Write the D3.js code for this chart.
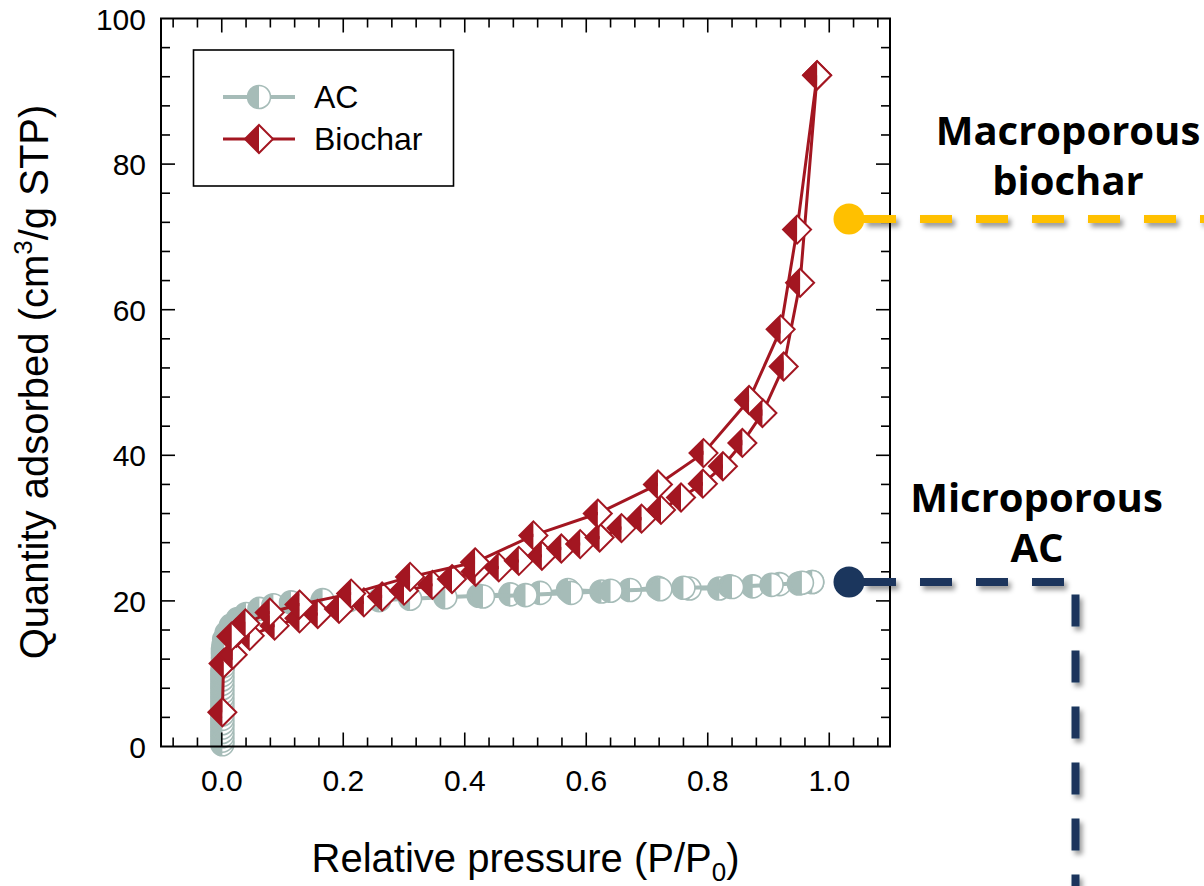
<!DOCTYPE html>
<html>
<head>
<meta charset="utf-8">
<script src="https://cdn.jsdelivr.net/npm/d3@7"></script>
<style>
  body { margin: 0; background: #fff; }
  svg { display: block; font-family: "Liberation Sans", Arial, sans-serif; }
</style>
</head>
<body>
<svg id="chart" width="1204" height="886"></svg>
<script>
// AC isotherm (adsorption then desorption)
let acX = [0.001, 0.001, 0.001, 0.001, 0.001, 0.001, 0.001, 0.001, 0.001, 0.001, 0.001, 0.001,
           0.001, 0.001, 0.001, 0.001, 0.001, 0.001, 0.002, 0.002, 0.002, 0.002, 0.002, 0.003,
           0.004, 0.008, 0.015, 0.026, 0.040, 0.062, 0.085, 0.114, 0.166, 0.210, 0.259, 0.310,
           0.368, 0.423, 0.475, 0.524, 0.570, 0.625, 0.672, 0.718, 0.770, 0.819, 0.836, 0.874,
           0.918, 0.950, 0.972];
let acY = [0.3, 0.8, 1.4, 2.0, 2.6, 3.2, 3.8, 4.4, 5.0, 5.6, 6.2, 6.8,
           7.4, 8.0, 8.6, 9.2, 9.8, 10.4, 11.0, 11.6, 12.2, 12.8, 13.4, 14.0,
           14.7, 15.6, 16.6, 17.5, 18.2, 18.9, 19.4, 19.8, 20.1, 20.1, 20.1, 20.3,
           20.5, 20.7, 20.9, 21.1, 21.5, 21.3, 21.5, 21.8, 21.7, 21.7, 22.0, 22.0,
           22.3, 22.4, 22.6];
let acDesX = [0.972, 0.955, 0.905, 0.840, 0.760, 0.722, 0.640, 0.575, 0.500, 0.430];
let acDesY = [22.6, 22.5, 22.2, 21.9, 21.8, 21.6, 21.4, 21.1, 20.8, 20.6];

// Biochar isotherm
let bioAdsX = [0.001, 0.003, 0.018, 0.024, 0.046, 0.087, 0.128, 0.158, 0.193, 0.234, 0.264, 0.300,
               0.347, 0.379, 0.418, 0.456, 0.489, 0.527, 0.559, 0.590, 0.622, 0.658, 0.691, 0.723,
               0.756, 0.792, 0.825, 0.857, 0.890, 0.925, 0.952, 0.980];
let bioAdsY = [4.7, 11.4, 12.6, 15.6, 15.2, 16.6, 17.6, 18.2, 18.9, 19.8, 20.6, 21.4,
               22.2, 23.0, 24.0, 24.6, 25.5, 26.2, 27.2, 27.8, 28.7, 30.0, 31.3, 32.5,
               34.2, 36.1, 38.5, 41.7, 45.8, 52.2, 63.7, 92.2];
let bioDesX = [0.980, 0.947, 0.920, 0.868, 0.793, 0.718, 0.619, 0.513, 0.417, 0.310, 0.213, 0.128, 0.079, 0.039, 0.016];
let bioDesY = [92.2, 71.0, 57.3, 47.6, 40.3, 36.0, 32.0, 29.0, 25.3, 23.3, 21.0, 19.5, 18.4, 16.9, 15.1];

let xTicks = [0.0, 0.2, 0.4, 0.6, 0.8, 1.0];
let yTicks = [0, 20, 40, 60, 80, 100];
let seriesNames = ["AC", "Biochar"];

const acColor = "#a6bcb8", bioColor = "#a31621";
const yellow = "#ffc000", navy = "#1b365d";

const svg = d3.select("#chart");
const x = d3.scaleLinear().domain([-0.1, 1.1]).range([161, 890]);
const y = d3.scaleLinear().domain([0, 100]).range([746.5, 18.5]);

const defs = svg.append("defs");
defs.append("clipPath").attr("id", "leftHalf")
  .append("rect").attr("x", -30).attr("y", -30).attr("width", 30).attr("height", 60);
// user space region, a flat line has no bbox height
let sh = defs.append("filter").attr("id", "shadow").attr("filterUnits", "userSpaceOnUse")
  .attr("x", 0).attr("y", 0).attr("width", 1204).attr("height", 886);
sh.append("feDropShadow").attr("dx", 3).attr("dy", 4).attr("stdDeviation", 2.5)
  .attr("flood-color", "#000").attr("flood-opacity", 0.4);

// circle marker, left half filled
function acMarker(g) {
  g.append("circle").attr("r", 11.5).attr("fill", "#fff");
  g.append("circle").attr("r", 11.5).attr("fill", acColor).attr("clip-path", "url(#leftHalf)");
  g.append("circle").attr("r", 11.5).attr("fill", "none").attr("stroke", acColor).attr("stroke-width", 1.6);
}
// diamond marker, left half filled
function bioMarker(g) {
  let s = 14;
  g.append("path").attr("d", `M0,${-s}L${s},0L0,${s}Z`).attr("fill", "#fff");
  g.append("path").attr("d", `M0,${-s}L${-s},0L0,${s}Z`).attr("fill", bioColor);
  g.append("path").attr("d", `M0,${-s}L${s},0L0,${s}L${-s},0Z`)
    .attr("fill", "none").attr("stroke", bioColor).attr("stroke-width", 2);
}

const line = d3.line().x(d => x(d[0])).y(d => y(d[1]));

function drawSeries(xs, ys, color, width, marker) {
  let pts = d3.zip(xs, ys);
  svg.append("path").datum(pts).attr("d", line)
    .attr("fill", "none").attr("stroke", color).attr("stroke-width", width)
    .attr("stroke-linejoin", "round");
  svg.append("g").selectAll("g").data(pts).join("g")
    .attr("transform", d => `translate(${x(d[0])},${y(d[1])})`)
    .each(function() { marker(d3.select(this)); });
}

drawSeries(acX, acY, acColor, 4, acMarker);
drawSeries(acDesX, acDesY, acColor, 4, acMarker);
drawSeries(bioAdsX, bioAdsY, bioColor, 3, bioMarker);
drawSeries(bioDesX, bioDesY, bioColor, 3, bioMarker);

// frame and ticks (inward, all four sides)
svg.append("rect").attr("x", 161).attr("y", 18.5).attr("width", 729).attr("height", 728)
  .attr("fill", "none").attr("stroke", "#000").attr("stroke-width", 2);

let xMinor = d3.range(-0.08, 1.09, 0.04);
let yMinor = d3.range(4, 100, 4);
function isMajor(v, list) { return list.some(t => Math.abs(t - v) < 1e-6); }

const tickG = svg.append("g").attr("stroke", "#000").attr("stroke-width", 1.6);
xMinor.forEach(v => {
  let len = isMajor(v, xTicks) ? 14 : 9;
  tickG.append("line").attr("x1", x(v)).attr("x2", x(v)).attr("y1", 746.5).attr("y2", 746.5 - len);
  tickG.append("line").attr("x1", x(v)).attr("x2", x(v)).attr("y1", 18.5).attr("y2", 18.5 + len);
});
yMinor.forEach(v => {
  let len = isMajor(v, yTicks) ? 14 : 9;
  tickG.append("line").attr("x1", 161).attr("x2", 161 + len).attr("y1", y(v)).attr("y2", y(v));
  tickG.append("line").attr("x1", 890).attr("x2", 890 - len).attr("y1", y(v)).attr("y2", y(v));
});

svg.append("g").selectAll("text").data(xTicks).join("text")
  .attr("x", d => x(d)).attr("y", 791).attr("text-anchor", "middle")
  .attr("font-size", 30).text(d => d3.format(".1f")(d));
svg.append("g").selectAll("text").data(yTicks).join("text")
  .attr("x", 146).attr("y", d => y(d) + 11).attr("text-anchor", "end")
  .attr("font-size", 30).text(d => d);

// axis titles
let xt = svg.append("text").attr("x", 525.5).attr("y", 872).attr("text-anchor", "middle")
  .attr("font-size", 40);
xt.append("tspan").text("Relative pressure (P/P");
xt.append("tspan").attr("font-size", 26).attr("dy", 9).text("0");
xt.append("tspan").attr("dy", -9).text(")");

let yt = svg.append("text").attr("transform", "translate(48,382) rotate(-90)")
  .attr("text-anchor", "middle").attr("font-size", 40);
yt.append("tspan").text("Quantity adsorbed (cm");
yt.append("tspan").attr("font-size", 26).attr("dy", -16).text("3");
yt.append("tspan").attr("dy", 16).text("/g STP)");

// legend
const lg = svg.append("g");
lg.append("rect").attr("x", 193.5).attr("y", 50).attr("width", 260).attr("height", 136)
  .attr("fill", "#fff").attr("stroke", "#000").attr("stroke-width", 1.6);
[[97, acColor, 4, acMarker], [139, bioColor, 3, bioMarker]].forEach((r, i) => {
  lg.append("line").attr("x1", 223).attr("x2", 295).attr("y1", r[0]).attr("y2", r[0])
    .attr("stroke", r[1]).attr("stroke-width", r[2]);
  r[3](lg.append("g").attr("transform", `translate(259,${r[0]})`));
  lg.append("text").attr("x", 314).attr("y", r[0] + 11).attr("font-size", 32).text(seriesNames[i]);
});

// annotations
const ann = svg.append("g");
ann.append("path").attr("d", "M864,219H1204")
  .attr("stroke", yellow).attr("stroke-width", 8).attr("fill", "none")
  .attr("stroke-dasharray", "32 24").attr("filter", "url(#shadow)");
ann.append("circle").attr("cx", 849).attr("cy", 219).attr("r", 15.5).attr("fill", yellow);
ann.append("path").attr("d", "M864,582H1075.5V886")
  .attr("stroke", navy).attr("stroke-width", 8).attr("fill", "none")
  .attr("stroke-dasharray", "32 24").attr("filter", "url(#shadow)");
ann.append("circle").attr("cx", 849).attr("cy", 582).attr("r", 15.5).attr("fill", navy);

const annFont = "'Open Sans', 'Noto Sans', sans-serif";
[["Macroporous", 1068, 145], ["biochar", 1068, 195], ["Microporous", 1036.5, 512], ["AC", 1037, 562]]
  .forEach(t => {
    ann.append("text").attr("x", t[1]).attr("y", t[2]).attr("text-anchor", "middle")
      .attr("font-family", annFont).attr("font-weight", 700).attr("font-size", 40).text(t[0]);
  });
</script>
</body>
</html>
